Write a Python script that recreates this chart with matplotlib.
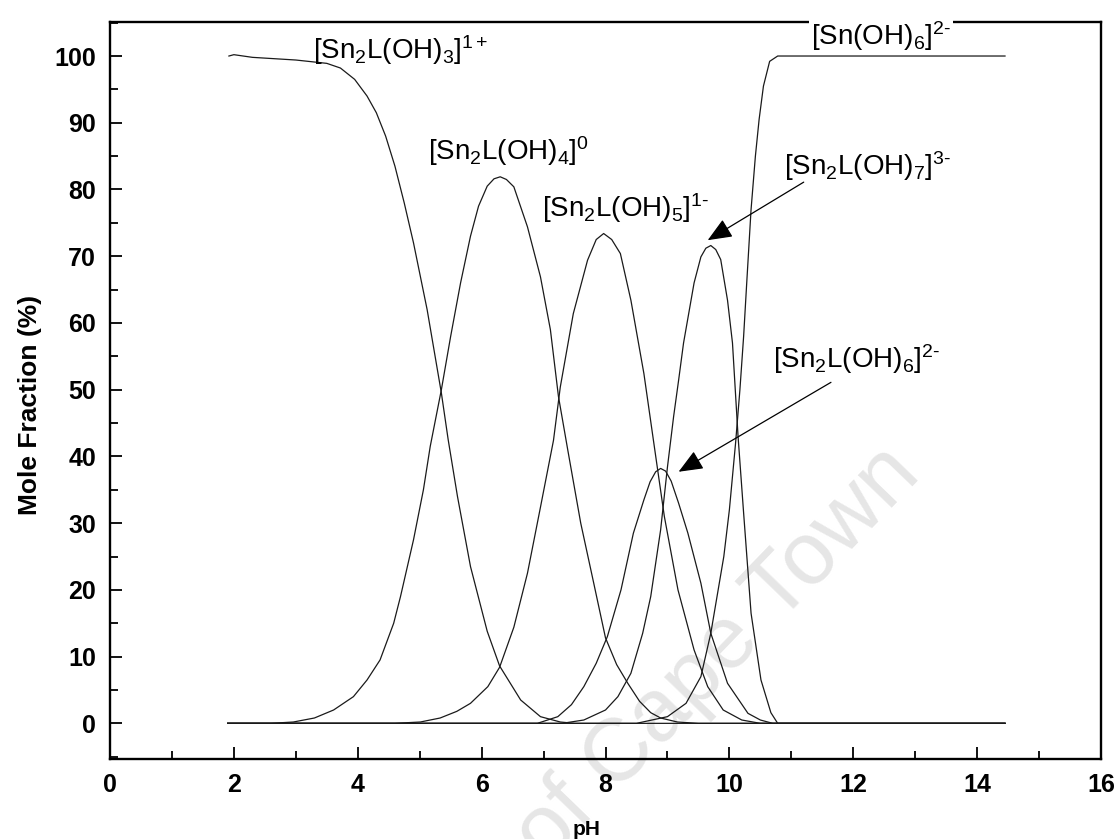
import matplotlib
matplotlib.use("Agg")
import matplotlib.pyplot as plt
from matplotlib.ticker import MultipleLocator

plt.rcParams['font.family'] = ['Liberation Sans', 'DejaVu Sans']
plt.rcParams['mathtext.fontset'] = 'custom'
plt.rcParams['mathtext.rm'] = 'Liberation Sans'
plt.rcParams['mathtext.it'] = 'Liberation Sans:italic'
plt.rcParams['mathtext.bf'] = 'Liberation Sans:bold'

# species distribution (pH, mole fraction %)
ph_a = [1.92, 2.0, 2.3, 3.0, 3.5, 3.72, 3.95, 4.15, 4.3, 4.45, 4.6, 4.75, 4.9, 5.12,
        5.35, 5.46, 5.61, 5.82, 6.09, 6.29, 6.63, 6.95, 7.27, 7.5, 14.45]
fr_a = [100, 100.2, 99.8, 99.4, 98.9, 98.2, 96.5, 94, 91.5, 88, 83.5, 78, 72, 62,
        49.5, 42.5, 34, 23.5, 13.8, 8.6, 3.5, 1.0, 0.2, 0, 0]

ph_b = [1.9, 2.6, 2.96, 3.3, 3.61, 3.93, 4.15, 4.36, 4.58, 4.69, 4.9, 5.06, 5.17, 5.35, 5.5,
        5.66, 5.82, 5.95, 6.09, 6.2, 6.3, 6.4, 6.52, 6.74, 6.95, 7.11, 7.24, 7.39, 7.6, 7.81,
        8.0, 8.18, 8.36, 8.55, 8.73, 8.89, 9.16, 9.5, 14.45]
fr_b = [0, 0, 0.2, 0.8, 2.0, 4.0, 6.5, 9.5, 15, 19, 27.5, 35, 41.5, 50, 58,
        66, 73, 77.5, 80.5, 81.6, 81.9, 81.5, 80.4, 74.4, 66.9, 59, 49, 41, 30, 21,
        12.8, 8.8, 6, 3.3, 1.6, 0.8, 0.2, 0, 0]

ph_c = [1.9, 4.6, 5.01, 5.33, 5.6, 5.82, 6.1, 6.29, 6.52, 6.74, 6.95, 7.16, 7.27, 7.48, 7.71,
        7.85, 7.97, 8.1, 8.24, 8.41, 8.62, 8.78, 8.95, 9.17, 9.43, 9.65, 9.9, 10.2, 10.5, 14.45]
fr_c = [0, 0, 0.2, 0.8, 1.8, 3.0, 5.5, 8.4, 14.4, 22.5, 32.4, 42.4, 50.4, 61.4, 69.4,
        72.5, 73.4, 72.5, 70.4, 63.4, 52.4, 42, 31, 20, 11, 5.5, 2, 0.5, 0, 0]

ph_d = [1.9, 6.9, 7.23, 7.45, 7.65, 7.85, 8.03, 8.25, 8.45, 8.62, 8.72, 8.81, 8.89, 8.97,
        9.06, 9.18, 9.33, 9.54, 9.7, 9.97, 10.3, 10.5, 10.7, 14.45]
fr_d = [0, 0, 1, 2.8, 5.5, 9, 13, 20, 28.5, 33.5, 36.2, 37.7, 38.2, 37.8,
        36.3, 33, 28.5, 21, 13.5, 6, 1.5, 0.5, 0, 0]

ph_e = [1.9, 7.3, 7.65, 8.0, 8.2, 8.41, 8.6, 8.73, 8.89, 9.0, 9.1, 9.18, 9.26, 9.43, 9.54,
        9.62, 9.7, 9.78, 9.86, 9.97, 10.05, 10.14, 10.23, 10.35, 10.51, 10.67, 10.78, 14.45]
fr_e = [0, 0, 0.5, 2, 4, 7.5, 13.5, 19, 29, 38.4, 46, 51.4, 57, 66, 69.9,
        71.2, 71.6, 71, 69.5, 63.4, 57, 43, 31.5, 16.5, 6.5, 1.6, 0, 0]

ph_f = [1.9, 8.5, 9.0, 9.3, 9.54, 9.7, 9.91, 10.0, 10.1, 10.17, 10.23, 10.28, 10.35, 10.42,
        10.48, 10.55, 10.65, 10.78, 14.45]
fr_f = [0, 0, 1, 3, 7, 13.5, 25, 32, 42, 50, 58, 66, 77, 85,
        90.5, 95.5, 99.2, 100, 100]

curves = [(ph_a, fr_a), (ph_b, fr_b), (ph_c, fr_c), (ph_d, fr_d), (ph_e, fr_e), (ph_f, fr_f)]

fig = plt.figure(figsize=(11.18, 8.39), dpi=100)
ax = fig.add_axes([0.0984, 0.0953, 0.8864, 0.8785])

# faint watermark behind the curves
ax.text(718 / 1118, 1 - 655 / 839, 'of Cape Town', transform=fig.transFigure,
        fontsize=64, color='#e6e6e6', rotation=46, ha='center', va='center',
        clip_on=False, zorder=0)

for ph, fr in curves:
    ax.plot(ph, fr, color='#1a1a1a', lw=0.9, zorder=2)

ax.set_xlim(0, 16)
ax.set_ylim(-5.35, 105.1)
ax.xaxis.set_major_locator(MultipleLocator(2))
ax.xaxis.set_minor_locator(MultipleLocator(1))
ax.yaxis.set_major_locator(MultipleLocator(10))
ax.yaxis.set_minor_locator(MultipleLocator(5))
ax.tick_params(which='both', direction='in', top=False, right=False, width=1.3)
ax.tick_params(which='major', length=8.5, labelsize=18, pad=10)
ax.tick_params(which='minor', length=5.5)
for lab in ax.get_xticklabels() + ax.get_yticklabels():
    lab.set_fontweight('bold')
for sp in ax.spines.values():
    sp.set_linewidth(1.7)

ax.set_xlabel('pH', fontsize=15, fontweight='bold')
ax.xaxis.set_label_coords(0.481, -0.083)
ax.set_ylabel('Mole Fraction (%)', fontsize=19, fontweight='bold')
ax.yaxis.set_label_coords(-0.069, 0.48)

lab_fs = 20
ax.text(3.27, 99.6, r'[Sn$_2$L(OH)$_3$]$^{1+}$', fontsize=lab_fs, va='baseline')
ax.text(5.14, 84.4, r'[Sn$_2$L(OH)$_4$]$^{0}$', fontsize=lab_fs, va='baseline')
ax.text(6.98, 75.9, r'[Sn$_2$L(OH)$_5$]$^{1\text{-}}$', fontsize=lab_fs, va='baseline')
ax.text(10.88, 82.2, r'[Sn$_2$L(OH)$_7$]$^{3\text{-}}$', fontsize=lab_fs, va='baseline')
ax.text(10.70, 53.2, r'[Sn$_2$L(OH)$_6$]$^{2\text{-}}$', fontsize=lab_fs, va='baseline')
ax.text(11.32, 101.6, r'[Sn(OH)$_6$]$^{2\text{-}}$', fontsize=lab_fs, va='baseline',
        clip_on=False, zorder=5,
        bbox=dict(facecolor='white', edgecolor='none', pad=1.5))

arrow = dict(arrowstyle='-|>,head_length=0.6,head_width=0.25', color='black',
             lw=0.9, mutation_scale=25, shrinkA=0, shrinkB=0)
ax.annotate('', xy=(9.65, 72.4), xytext=(11.2, 81.1), arrowprops=arrow)
ax.annotate('', xy=(9.18, 37.7), xytext=(11.64, 51.1), arrowprops=arrow)

fig.savefig('out.png', dpi=100)
